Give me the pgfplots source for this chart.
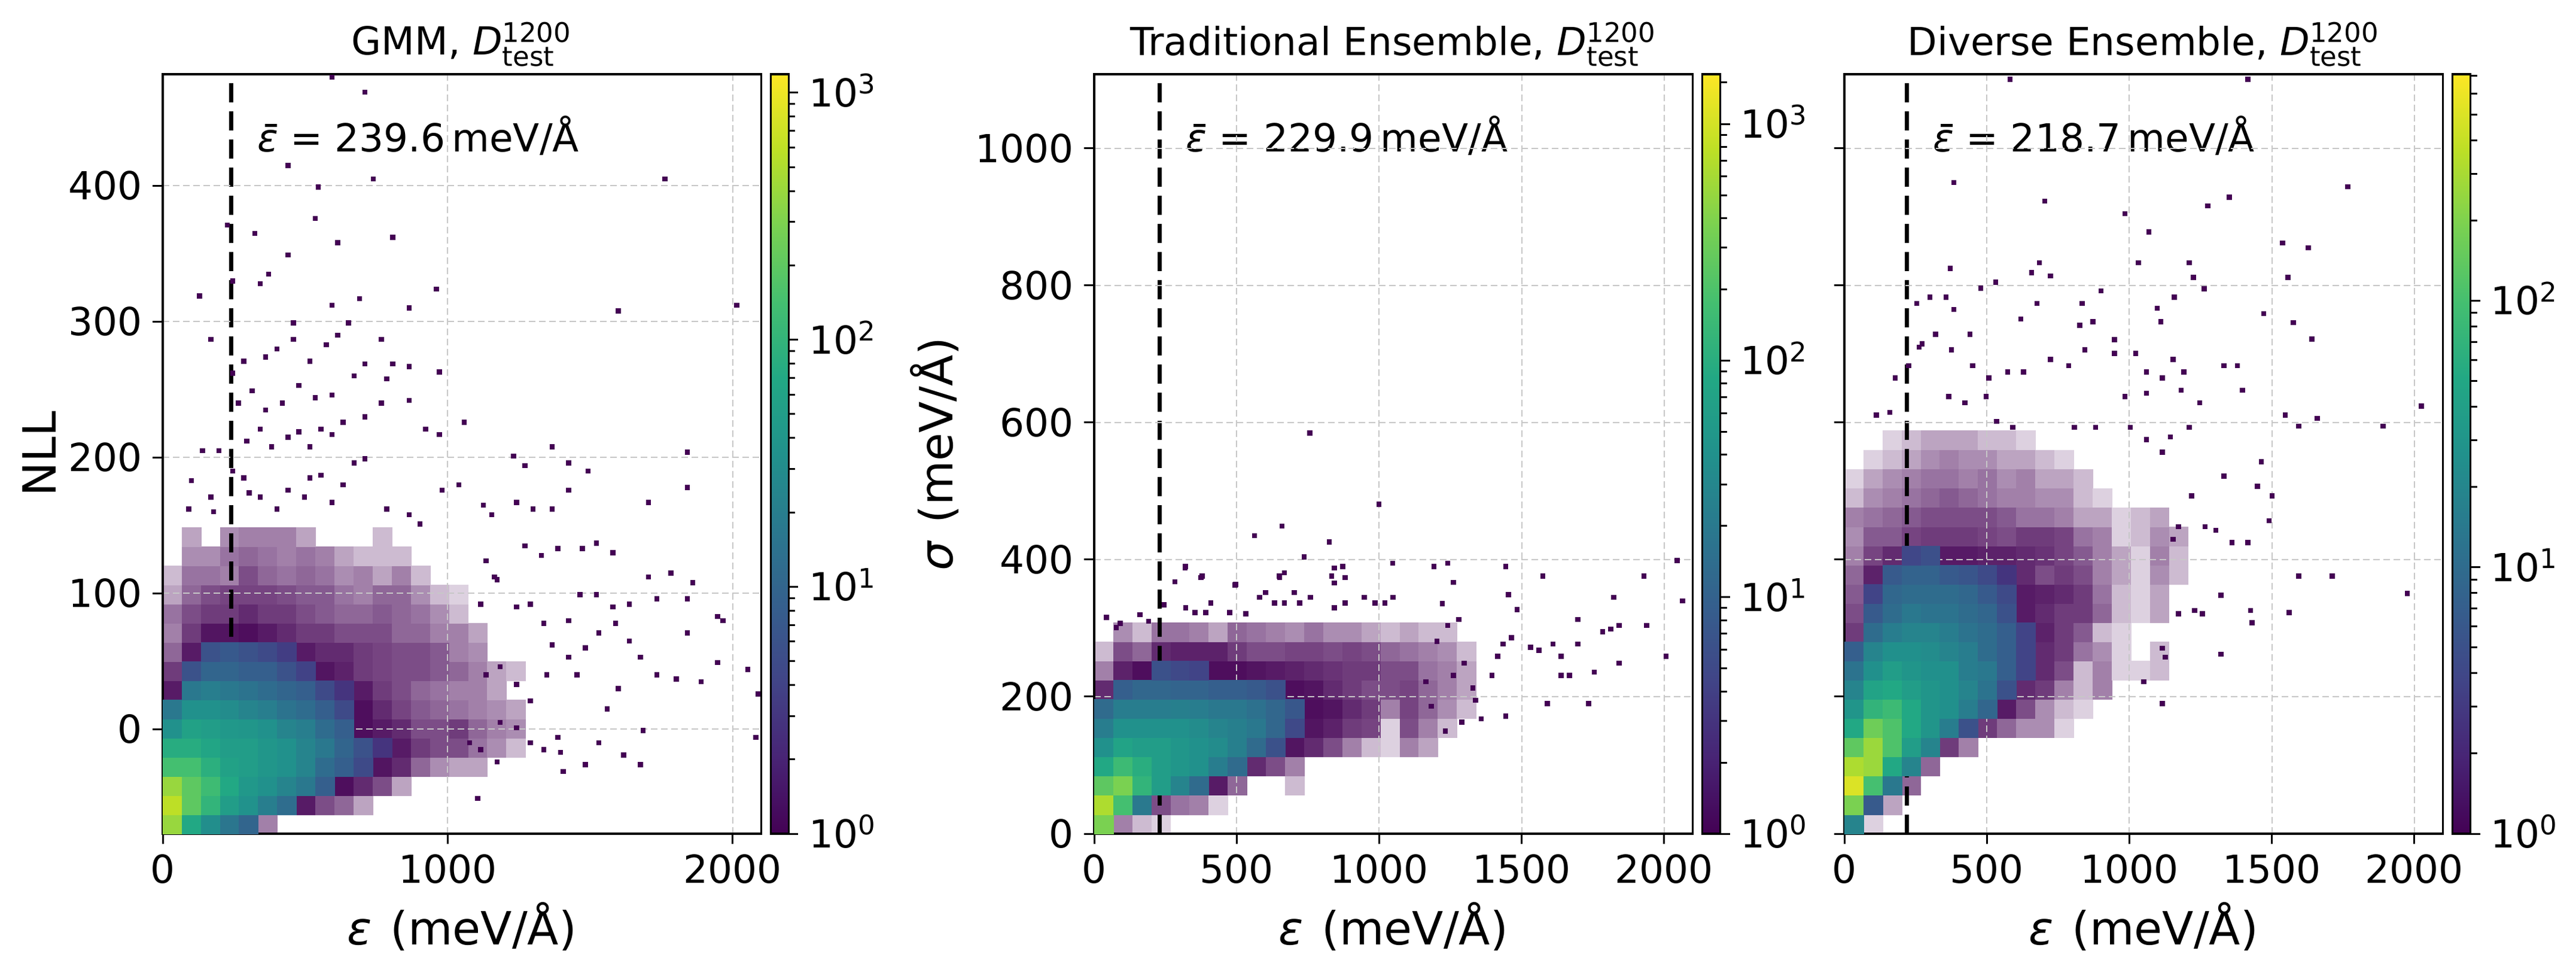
\documentclass[border=0pt]{standalone}
\usepackage{pgfplots}
\pgfplotsset{compat=1.18}
\usepackage{pgfplotstable}
\usepackage{fontspec}
\setmainfont{DejaVu Sans}
\definecolor{vpurple}{HTML}{440154}
\newcommand\myfs{\fontsize{12.9}{15}\selectfont}
\newcommand\myfl{\fontsize{15.3}{18}\selectfont}
\newcommand\myDt{{\itshape D}$^{\mbox{\fontsize{9}{9}\selectfont 1200}}_{\mbox{\fontsize{9}{9}\selectfont test}}$}
\newcommand\myEbar{{\itshape\rlap{\kern0.2em\raisebox{0.65em}{\rule{0.31em}{0.075em}}}ε}}
\newcommand\myeps{{\itshape ε}}
\newcommand\mysgm{{\itshape σ}}
\newcommand\mycbl[1]{10\textsuperscript{#1}}

% ---- panel 1: dense cells (i j log10 count)
\pgfplotstableread[row sep=\\]{
i j c\\
0 0 2.6\\ 1 0 1.85\\ 2 0 1.5\\ 3 0 1.2\\ 4 0 1.0\\
0 1 2.77\\ 1 1 2.3\\ 2 1 2.0\\ 3 1 1.7\\ 4 1 1.55\\ 5 1 1.3\\ 6 1 1.1\\
0 2 2.6\\ 1 2 2.3\\ 2 2 2.1\\ 3 2 1.85\\ 4 2 1.63\\ 5 2 1.54\\ 6 2 1.38\\ 7 2 1.23\\ 8 2 0.92\\
0 3 2.15\\ 1 3 2.15\\ 2 3 1.94\\ 3 3 1.75\\ 4 3 1.7\\ 5 3 1.6\\ 6 3 1.54\\ 7 3 1.38\\ 8 3 1.08\\ 9 3 0.92\\ 10 3 0.68\\
0 4 1.9\\ 1 4 1.9\\ 2 4 1.8\\ 3 4 1.7\\ 4 4 1.7\\ 5 4 1.6\\ 6 4 1.54\\ 7 4 1.38\\ 8 4 1.23\\ 9 4 1.0\\ 10 4 0.77\\ 11 4 0.46\\
0 5 1.54\\ 1 5 1.75\\ 2 5 1.7\\ 3 5 1.63\\ 4 5 1.6\\ 5 5 1.54\\ 6 5 1.38\\ 7 5 1.3\\ 8 5 1.08\\ 9 5 0.92\\
0 6 1.23\\ 1 6 1.54\\ 2 6 1.54\\ 3 6 1.48\\ 4 6 1.38\\ 5 6 1.3\\ 6 6 1.17\\ 7 6 1.08\\ 8 6 0.92\\ 9 6 0.68\\
1 7 1.23\\ 2 7 1.3\\ 3 7 1.23\\ 4 7 1.17\\ 5 7 1.08\\ 6 7 1.0\\ 7 7 0.92\\ 8 7 0.68\\ 9 7 0.46\\
1 8 0.77\\ 2 8 1.0\\ 3 8 1.0\\ 4 8 0.92\\ 5 8 0.92\\ 6 8 0.77\\ 7 8 0.6\\
2 9 0.77\\ 3 9 0.86\\ 4 9 0.77\\ 5 9 0.68\\ 6 9 0.55\\
}\solA
% ---- panel 1: sparse cells (i j filled fraction)
\pgfplotstableread[row sep=\\]{
i j a\\
5 0 0.3\\ 7 1 0.8\\ 8 1 0.5\\ 9 1 0.4\\ 10 1 0.2\\ 9 2 0.9\\ 10 2 0.7\\ 11 2 0.5\\ 12 2 0.2\\
11 3 0.85\\ 12 3 0.7\\ 13 3 0.4\\ 14 3 0.25\\ 15 3 0.2\\ 12 4 0.8\\ 13 4 0.6\\ 14 4 0.5\\ 15 4 0.5\\
10 5 0.9\\ 11 5 0.8\\ 12 5 0.7\\ 13 5 0.5\\ 14 5 0.5\\ 15 5 0.6\\
10 6 0.9\\ 11 6 0.7\\ 12 6 0.55\\ 13 6 0.45\\ 14 6 0.4\\ 15 6 0.35\\
0 7 0.8\\ 10 7 0.8\\ 11 7 0.6\\ 12 7 0.5\\ 13 7 0.4\\ 14 7 0.35\\ 15 7 0.3\\
0 8 0.6\\ 8 8 0.85\\ 9 8 0.75\\ 10 8 0.6\\ 11 8 0.55\\ 12 8 0.5\\ 13 8 0.5\\ 14 8 0.45\\ 15 8 0.4\\
0 9 0.4\\ 1 9 0.8\\ 7 9 0.8\\ 8 9 0.7\\ 9 9 0.7\\ 10 9 0.6\\ 11 9 0.55\\ 12 9 0.5\\ 13 9 0.5\\ 14 9 0.45\\ 15 9 0.3\\
0 10 0.3\\ 1 10 0.6\\ 2 10 0.85\\ 3 10 0.85\\ 4 10 0.9\\ 5 10 0.8\\ 6 10 0.7\\ 7 10 0.6\\ 8 10 0.6\\ 9 10 0.5\\ 10 10 0.5\\ 11 10 0.5\\ 12 10 0.4\\ 13 10 0.4\\ 14 10 0.3\\ 15 10 0.3\\
0 11 0.35\\ 1 11 0.5\\ 2 11 0.6\\ 3 11 0.6\\ 4 11 0.7\\ 5 11 0.6\\ 6 11 0.6\\ 7 11 0.5\\ 8 11 0.45\\ 9 11 0.4\\ 10 11 0.4\\ 11 11 0.45\\ 12 11 0.4\\ 13 11 0.35\\ 14 11 0.25\\ 15 11 0.15\\
0 12 0.2\\ 1 12 0.4\\ 2 12 0.5\\ 3 12 0.55\\ 4 12 0.55\\ 5 12 0.55\\ 6 12 0.5\\ 7 12 0.45\\ 8 12 0.45\\ 9 12 0.35\\ 10 12 0.3\\ 11 12 0.4\\ 12 12 0.4\\ 13 12 0.25\\ 14 12 0.15\\ 15 12 0.1\\
0 13 0.15\\ 1 13 0.35\\ 2 13 0.35\\ 3 13 0.3\\ 4 13 0.5\\ 5 13 0.4\\ 6 13 0.35\\ 7 13 0.4\\ 8 13 0.35\\ 9 13 0.25\\ 10 13 0.3\\ 11 13 0.2\\ 12 13 0.3\\ 13 13 0.15\\
1 14 0.25\\ 2 14 0.25\\ 3 14 0.35\\ 4 14 0.4\\ 5 14 0.35\\ 6 14 0.3\\ 7 14 0.35\\ 8 14 0.3\\ 9 14 0.2\\ 10 14 0.15\\ 11 14 0.15\\ 12 14 0.15\\
1 15 0.2\\ 3 15 0.25\\ 4 15 0.3\\ 5 15 0.3\\ 6 15 0.3\\ 7 15 0.2\\ 11 15 0.15\\
16 3 0.2\\ 16 4 0.35\\ 16 5 0.4\\ 16 6 0.3\\ 16 7 0.3\\ 16 8 0.3\\ 16 9 0.25\\ 16 10 0.2\\ 17 4 0.25\\ 17 5 0.3\\ 17 6 0.25\\ 17 7 0.2\\ 17 8 0.2\\ 18 4 0.15\\ 18 5 0.25\\ 18 6 0.2\\ 18 8 0.15\\
}\fadA

% ---- panel 2
\pgfplotstableread[row sep=\\]{
i j c\\
0 0 2.57\\ 0 1 2.82\\ 1 1 2.25\\ 2 1 1.3\\
0 2 2.4\\ 1 2 2.57\\ 2 2 2.09\\ 3 2 1.77\\ 4 2 1.44\\ 5 2 1.12\\
0 3 1.93\\ 1 3 2.18\\ 2 3 2.0\\ 3 3 1.77\\ 4 3 1.67\\ 5 3 1.6\\ 6 3 1.35\\ 7 3 1.12\\
0 4 1.6\\ 1 4 1.86\\ 2 4 1.77\\ 3 4 1.77\\ 4 4 1.67\\ 5 4 1.6\\ 6 4 1.54\\ 7 4 1.38\\ 8 4 1.12\\ 9 4 0.8\\
0 5 1.35\\ 1 5 1.6\\ 2 5 1.6\\ 3 5 1.6\\ 4 5 1.6\\ 5 5 1.54\\ 6 5 1.44\\ 7 5 1.38\\ 8 5 1.28\\ 9 5 1.06\\ 10 5 0.7\\
0 6 1.12\\ 1 6 1.35\\ 2 6 1.35\\ 3 6 1.35\\ 4 6 1.38\\ 5 6 1.35\\ 6 6 1.28\\ 7 6 1.28\\ 8 6 1.19\\ 9 6 1.06\\ 10 6 0.87\\
1 7 0.96\\ 2 7 1.06\\ 3 7 1.06\\ 4 7 1.03\\ 5 7 1.03\\ 6 7 0.96\\ 7 7 0.96\\ 8 7 0.9\\ 9 7 0.8\\
3 8 0.8\\ 4 8 0.7\\ 5 8 0.64\\
}\solB
\pgfplotstableread[row sep=\\]{
i j a\\
1 0 0.3\\ 2 0 0.15\\ 3 0 0.1\\ 3 1 0.5\\ 4 1 0.35\\ 5 1 0.3\\ 6 1 0.1\\ 6 2 0.8\\ 7 2 0.4\\ 10 2 0.15\\
8 3 0.7\\ 9 3 0.5\\ 10 3 0.3\\ 10 4 0.85\\ 11 4 0.7\\ 12 4 0.5\\ 13 4 0.3\\ 14 4 0.15\\ 15 4 0.1\\
11 5 0.85\\ 12 5 0.75\\ 13 5 0.6\\ 14 5 0.55\\ 15 5 0.1\\ 11 6 0.9\\ 12 6 0.85\\ 13 6 0.7\\ 14 6 0.6\\ 15 6 0.3\\
0 7 0.7\\ 10 7 0.9\\ 11 7 0.85\\ 12 7 0.7\\ 13 7 0.6\\ 14 7 0.5\\ 15 7 0.5\\
0 8 0.3\\ 1 8 0.75\\ 2 8 0.9\\ 6 8 0.9\\ 7 8 0.9\\ 8 8 0.85\\ 9 8 0.8\\ 10 8 0.75\\ 11 8 0.7\\ 12 8 0.65\\ 13 8 0.6\\ 14 8 0.6\\ 15 8 0.5\\
0 9 0.15\\ 1 9 0.5\\ 2 9 0.4\\ 3 9 0.7\\ 4 9 0.75\\ 5 9 0.75\\ 6 9 0.75\\ 7 9 0.6\\ 8 9 0.5\\ 9 9 0.5\\ 10 9 0.55\\ 11 9 0.55\\ 12 9 0.5\\ 13 9 0.55\\ 14 9 0.5\\ 15 9 0.4\\
1 10 0.25\\ 2 10 0.15\\ 3 10 0.35\\ 4 10 0.35\\ 5 10 0.3\\ 6 10 0.2\\ 7 10 0.4\\ 8 10 0.35\\ 9 10 0.3\\ 10 10 0.25\\ 11 10 0.35\\ 12 10 0.25\\ 13 10 0.25\\ 14 10 0.2\\ 15 10 0.15\\
16 4 0.3\\ 16 5 0.5\\ 16 6 0.55\\ 16 7 0.55\\ 16 8 0.5\\ 16 9 0.35\\ 16 10 0.2\\ 17 4 0.2\\ 17 5 0.3\\ 17 6 0.4\\ 17 7 0.4\\ 17 8 0.35\\ 17 9 0.3\\ 17 10 0.15\\ 18 5 0.15\\ 18 6 0.25\\ 18 7 0.3\\ 18 8 0.3\\ 18 9 0.25\\ 18 10 0.15\\ 19 6 0.15\\ 19 7 0.2\\ 19 8 0.2\\ 19 9 0.15\\
}\fadB

% ---- panel 3
\pgfplotstableread[row sep=\\]{
i j c\\
0 0 1.28\\ 0 1 2.28\\ 1 1 0.8\\ 0 2 2.7\\ 1 2 2.0\\ 2 2 1.14\\
0 3 2.5\\ 1 3 2.42\\ 2 3 1.71\\ 3 3 1.28\\ 0 4 2.14\\ 1 4 2.42\\ 2 4 2.05\\ 3 4 1.57\\ 4 4 1.28\\
0 5 1.71\\ 1 5 2.22\\ 2 5 2.05\\ 3 5 1.71\\ 4 5 1.48\\ 5 5 1.2\\ 6 5 0.71\\
0 6 1.48\\ 1 6 1.85\\ 2 6 1.94\\ 3 6 1.71\\ 4 6 1.48\\ 5 6 1.42\\ 6 6 1.2\\ 7 6 0.94\\
0 7 1.28\\ 1 7 1.65\\ 2 7 1.71\\ 3 7 1.57\\ 4 7 1.48\\ 5 7 1.42\\ 6 7 1.28\\ 7 7 1.08\\ 8 7 0.71\\
0 8 1.08\\ 1 8 1.42\\ 2 8 1.57\\ 3 8 1.48\\ 4 8 1.42\\ 5 8 1.42\\ 6 8 1.2\\ 7 8 1.14\\ 8 8 0.86\\ 9 8 0.57\\
0 9 0.86\\ 1 9 1.28\\ 2 9 1.42\\ 3 9 1.42\\ 4 9 1.37\\ 5 9 1.28\\ 6 9 1.2\\ 7 9 1.0\\ 8 9 0.86\\ 9 9 0.57\\
1 10 1.0\\ 2 10 1.2\\ 3 10 1.28\\ 4 10 1.28\\ 5 10 1.2\\ 6 10 1.08\\ 7 10 1.0\\ 8 10 0.86\\ 9 10 0.57\\
1 11 0.8\\ 2 11 1.0\\ 3 11 1.14\\ 4 11 1.08\\ 5 11 1.08\\ 6 11 1.0\\ 7 11 0.94\\ 8 11 0.71\\
1 12 0.57\\ 2 12 0.95\\ 3 12 1.0\\ 4 12 1.0\\ 5 12 1.0\\ 6 12 0.95\\ 7 12 0.8\\ 8 12 0.63\\
2 13 0.8\\ 3 13 0.9\\ 4 13 0.9\\ 5 13 0.8\\ 6 13 0.75\\ 7 13 0.63\\ 8 13 0.43\\
3 14 0.6\\ 4 14 0.7\\
}\solC
\pgfplotstableread[row sep=\\]{
i j a\\
1 0 0.1\\ 2 1 0.2\\ 3 2 0.4\\ 4 3 0.4\\ 5 4 0.6\\ 6 4 0.3\\
7 5 0.6\\ 8 5 0.4\\ 9 5 0.25\\ 10 5 0.25\\ 11 5 0.1\\ 8 6 0.8\\ 9 6 0.5\\ 10 6 0.25\\ 11 6 0.15\\ 12 6 0.1\\
9 7 0.7\\ 10 7 0.6\\ 11 7 0.3\\ 12 7 0.15\\ 13 7 0.3\\ 10 8 0.7\\ 11 8 0.5\\ 12 8 0.15\\ 13 8 0.3\\ 14 8 0.1\\ 15 8 0.1\\
10 9 0.7\\ 11 9 0.6\\ 12 9 0.35\\ 13 9 0.25\\ 14 9 0.1\\ 0 10 0.6\\ 10 10 0.75\\ 11 10 0.6\\ 12 10 0.45\\ 13 10 0.15\\ 14 10 0.1\\
0 11 0.5\\ 9 11 0.8\\ 10 11 0.7\\ 11 11 0.6\\ 12 11 0.6\\ 13 11 0.4\\ 14 11 0.15\\ 15 11 0.1\\
0 12 0.45\\ 9 12 0.8\\ 10 12 0.75\\ 11 12 0.7\\ 12 12 0.6\\ 13 12 0.35\\ 14 12 0.15\\ 15 12 0.1\\
0 13 0.4\\ 1 13 0.75\\ 9 13 0.7\\ 10 13 0.5\\ 11 13 0.6\\ 12 13 0.5\\ 13 13 0.3\\ 14 13 0.2\\ 15 13 0.1\\
0 14 0.3\\ 1 14 0.55\\ 2 14 0.7\\ 5 14 0.8\\ 6 14 0.8\\ 7 14 0.75\\ 8 14 0.75\\ 9 14 0.7\\ 10 14 0.65\\ 11 14 0.55\\ 12 14 0.45\\ 13 14 0.3\\ 14 14 0.2\\ 15 14 0.1\\
0 15 0.25\\ 1 15 0.45\\ 2 15 0.45\\ 3 15 0.55\\ 4 15 0.6\\ 5 15 0.6\\ 6 15 0.6\\ 7 15 0.55\\ 8 15 0.5\\ 9 15 0.6\\ 10 15 0.6\\ 11 15 0.55\\ 12 15 0.35\\ 13 15 0.3\\ 14 15 0.1\\ 15 15 0.15\\
0 16 0.3\\ 1 16 0.35\\ 2 16 0.4\\ 3 16 0.45\\ 4 16 0.5\\ 5 16 0.5\\ 6 16 0.5\\ 7 16 0.5\\ 8 16 0.45\\ 9 16 0.35\\ 10 16 0.35\\ 11 16 0.3\\ 12 16 0.2\\ 13 16 0.2\\ 14 16 0.1\\ 15 16 0.15\\
0 17 0.15\\ 1 17 0.25\\ 2 17 0.3\\ 3 17 0.35\\ 4 17 0.4\\ 5 17 0.45\\ 6 17 0.4\\ 7 17 0.35\\ 8 17 0.3\\ 9 17 0.3\\ 10 17 0.25\\ 11 17 0.25\\ 12 17 0.15\\ 13 17 0.1\\
0 18 0.1\\ 1 18 0.2\\ 2 18 0.25\\ 3 18 0.3\\ 4 18 0.35\\ 5 18 0.35\\ 6 18 0.3\\ 7 18 0.35\\ 8 18 0.25\\ 9 18 0.3\\ 10 18 0.2\\ 11 18 0.2\\ 12 18 0.15\\
1 19 0.1\\ 2 19 0.15\\ 3 19 0.2\\ 4 19 0.25\\ 5 19 0.3\\ 6 19 0.25\\ 7 19 0.25\\ 8 19 0.2\\ 9 19 0.2\\ 10 19 0.15\\ 11 19 0.1\\
2 20 0.1\\ 3 20 0.15\\ 4 20 0.2\\ 5 20 0.2\\ 6 20 0.2\\ 7 20 0.15\\ 8 20 0.15\\ 9 20 0.1\\
16 8 0.15\\ 16 9 0.15\\ 16 11 0.2\\ 16 12 0.2\\ 16 13 0.25\\ 16 14 0.3\\ 16 15 0.25\\ 16 16 0.2\\ 17 13 0.15\\ 17 14 0.15\\ 17 15 0.2\\
}\fadC

\pgfplotsset{
  colormap={fade}{rgb255=(255,255,255) rgb255=(171,141,178) rgb255=(124,77,135) rgb255=(92,34,106) rgb255=(68,1,84)},
  colormap={vir}{rgb255=(68,1,84) rgb255=(72,36,117) rgb255=(65,68,135) rgb255=(53,95,141) rgb255=(42,120,142) rgb255=(33,145,140) rgb255=(34,168,132) rgb255=(68,191,112) rgb255=(122,209,81) rgb255=(189,223,38) rgb255=(253,231,37)},
  mybox/.style={scale only axis, width=200.1pt, height=253.8pt, anchor=south west,
    xmin=0, xmax=2100, enlargelimits=false},
  fadeaxis/.style={mybox, hide axis, colormap name=fade, point meta min=0, point meta max=1},
  mybase/.style={
    mybox, axis on top,
    colormap name=vir, point meta min=0,
    grid=major, grid style={color=black!22, dash pattern=on 2.2pt off 1.2pt, line width=0.4pt},
    tick align=outside, major tick length=3.4pt,
    every tick/.style={black, line width=0.6pt},
    axis line style={line width=0.65pt},
    xtick pos=left, ytick pos=left,
    ticklabel style={font=\myfs},
    /pgf/number format/1000 sep={},
    every axis x label/.style={at={(axis description cs:0.5,0)}, anchor=base, yshift=-37pt, font=\myfl},
    every axis title/.style={at={(axis description cs:0.5,1)}, anchor=base, yshift=6.4pt, font=\myfs},
    xlabel={\myeps\hspace{0.4em}(meV/Å)},
    colorbar,
    colorbar style={
      at={(parent axis.south east)}, anchor=south west, xshift=-5.34pt,
      scale only axis, width=6pt, height=253.8pt,
      axis line style={line width=0.65pt},
      tick align=outside, ytick pos=right, yticklabel pos=right,
      major tick length=3.2pt, minor tick length=2.2pt,
      every tick/.style={black, line width=0.6pt},
      yticklabel style={font=\myfs, anchor=base west, yshift=-4.7pt},
    },
  },
  mycells/.style={scatter, only marks, mark=square*, mark size=3.18pt,
    point meta=explicit,
    scatter/use mapped color={draw=mapped color, fill=mapped color, line width=0.1pt}},
  mydots/.style={only marks, mark=square*, mark size=0.75pt, mark options={draw=vpurple, fill=vpurple, line width=0.1pt}},
  mymean/.style={black, line width=1.4pt, dash pattern=on 6.4pt off 3pt},
}

\begin{document}
\begin{tikzpicture}
\useasboundingbox (0,0) rectangle (861.2pt,324.6pt);

% ===== panel 1
\begin{axis}[fadeaxis, at={(54.4pt,46pt)}, ymin=-77, ymax=482]
\addplot[mycells] table[x expr=\thisrowno{0}*67+33.5, y expr=\thisrowno{1}*14.1-69.95, meta index=2]{\fadA};
\end{axis}
\begin{axis}[mybase, at={(54.4pt,46pt)}, ymin=-77, ymax=482, point meta max=3.075,
  xtick={0,1000,2000}, ytick={0,100,200,300,400},
  xticklabels={0,1000,2000}, yticklabels={0,100,200,300,400},
  title={GMM, \myDt}, ylabel={NLL},
  every axis y label/.style={at={(axis description cs:0,0.5)}, anchor=base, xshift=-35.6pt, rotate=90, font=\myfl},
  colorbar style={ytick={0,1,2,3}, yticklabels={\mycbl{0},\mycbl{1},\mycbl{2},\mycbl{3}},
    minor ytick={0.301,0.477,0.602,0.699,0.778,0.845,0.903,0.954,1.301,1.477,1.602,1.699,1.778,1.845,1.903,1.954,2.301,2.477,2.602,2.699,2.778,2.845,2.903,2.954}}]
\addplot[mycells] table[x expr=\thisrowno{0}*67+33.5, y expr=\thisrowno{1}*14.1-69.95, meta index=2]{\solA};
\addplot[mydots] table[row sep=\\]{
x y\\
100 183\\139 205\\197 205\\91 162\\168 171\\178 160\\245 190\\284 185\\303 174\\342 171\\400 162\\439 176\\497 171\\516 185\\555 187\\593 167\\632 180\\671 196\\709 199\\786 162\\864 158\\902 151\\980 176\\1038 180\\294 212\\342 221\\381 208\\439 215\\477 219\\516 208\\555 221\\593 217\\632 226\\709 230\\767 240\\864 242\\922 221\\970 217\\265 240\\313 249\\361 235\\419 240\\477 253\\535 244\\593 246\\671 260\\709 269\\786 258\\864 267\\245 262\\284 271\\361 274\\400 280\\458 287\\516 271\\574 283\\613 290\\651 299\\767 287\\806 269\\864 310\\960 324\\458 299\\593 312\\690 317\\168 287\\129 319\\245 330\\323 365\\342 328\\371 335\\439 349\\545 399\\613 358\\535 376\\806 362\\709 469\\593 480\\439 415\\738 405\\1762 405\\226 371\\1598 308\\2013 312\\1057 226\\970 263\\1366 208\\1231 201\\1424 196\\1492 190\\1840 204\\1840 178\\1704 167\\1270 194\\1125 165\\1154 158\\1241 167\\1299 162\\1366 162\\1424 176\\
1076 -10\\1115 -15\\1173 -24\\1105 -51\\1183 5\\1241 1\\1289 -10\\1337 -15\\1386 -6\\1395 -17\\1405 -31\\1482 -26\\1530 -10\\1559 15\\1617 -19\\1675 -26\\1685 -1\\1598 30\\1134 40\\1183 46\\1241 33\\1289 21\\1347 40\\1366 62\\1424 53\\1453 40\\1482 60\\1530 71\\1588 78\\1637 65\\1675 53\\1733 40\\1801 37\\1840 71\\1888 35\\1946 49\\1965 80\\2052 44\\2088 26\\2081 -6\\1115 92\\1173 110\\1241 90\\1289 92\\1337 78\\1424 80\\1463 99\\1521 99\\1579 90\\1637 92\\1704 112\\1733 96\\1782 115\\1840 96\\1859 108\\1946 83\\1134 124\\1163 112\\1270 135\\1328 128\\1386 133\\1472 133\\1521 137\\1579 130\\
};
\addplot[mymean] coordinates {(239.6,-77) (239.6,482)};
\node[anchor=base west, inner sep=0pt, font=\myfs] at ({axis cs:329.6,0}|-{rel axis cs:0,0.898}) {\myEbar{} = 239.6\hspace{0.17em}meV/Å};
\end{axis}

% ===== panel 2
\begin{axis}[fadeaxis, at={(365.8pt,46pt)}, ymin=0, ymax=1108]
\addplot[mycells] table[x expr=\thisrowno{0}*67+33.5, y expr=\thisrowno{1}*28+14, meta index=2]{\fadB};
\end{axis}
\begin{axis}[mybase, at={(365.8pt,46pt)}, ymin=0, ymax=1108, point meta max=3.21,
  xtick={0,500,1000,1500,2000}, ytick={0,200,400,600,800,1000},
  xticklabels={0,500,1000,1500,2000}, yticklabels={0,200,400,600,800,1000},
  title={Traditional Ensemble, \myDt}, ylabel={\mysgm\hspace{0.4em}(meV/Å)},
  every axis y label/.style={at={(axis description cs:0,0.5)}, anchor=base, xshift=-47.4pt, rotate=90, font=\myfl},
  colorbar style={ytick={0,1,2,3}, yticklabels={\mycbl{0},\mycbl{1},\mycbl{2},\mycbl{3}},
    minor ytick={0.301,0.477,0.602,0.699,0.778,0.845,0.903,0.954,1.301,1.477,1.602,1.699,1.778,1.845,1.903,1.954,2.301,2.477,2.602,2.699,2.778,2.845,2.903,2.954,3.176}}]
\addplot[mycells] table[x expr=\thisrowno{0}*67+33.5, y expr=\thisrowno{1}*28+14, meta index=2]{\solB};
\addplot[mydots] table[row sep=\\]{
x y\\
245 334\\321 330\\353 323\\391 323\\409 337\\475 323\\531 321\\580 345\\601 352\\632 337\\667 337\\702 352\\720 337\\758 345\\842 330\\880 337\\947 345\\985 337\\1020 337\\1048 345\\318 388\\374 374\\283 368\\496 364\\650 374\\667 381\\842 388\\842 366\\880 374\\42 316\\91 307\\77 301\\160 320\\190 310\\
1434 277\\1463 286\\1453 349\\1483 327\\1444 172\\1395 231\\1415 259\\1531 272\\1560 268\\1589 190\\1609 277\\1638 259\\1638 231\\1667 231\\1696 313\\1696 277\\1734 190\\1754 236\\1783 295\\1812 299\\1841 304\\1841 249\\1938 304\\2006 259\\1928 376\\1822 345\\2045 399\\2064 340\\1574 376\\1444 390\\1260 367\\1240 304\\1202 281\\1337 195\\1357 168\\1328 213\\1289 163\\1231 150\\1182 186\\1163 222\\1298 249\\1260 231\\1279 313\\1221 336\\1192 390\\1240 395\\1047 395\\998 481\\756 585\\659 449\\562 435\\824 426\\736 404\\320 390\\378 376\\494 363\\649 376\\833 376\\872 390\\
};
\addplot[mymean] coordinates {(229.9,0) (229.9,1108)};
\node[anchor=base west, inner sep=0pt, font=\myfs] at ({axis cs:319.9,0}|-{rel axis cs:0,0.898}) {\myEbar{} = 229.9\hspace{0.17em}meV/Å};
\end{axis}

% ===== panel 3
\begin{axis}[fadeaxis, at={(616.6pt,46pt)}, ymin=0, ymax=1108]
\addplot[mycells] table[x expr=\thisrowno{0}*67+33.5, y expr=\thisrowno{1}*28+14, meta index=2]{\fadC};
\end{axis}
\begin{axis}[mybase, at={(616.6pt,46pt)}, ymin=0, ymax=1108, point meta max=2.85,
  xtick={0,500,1000,1500,2000}, ytick={0,200,400,600,800,1000},
  xticklabels={0,500,1000,1500,2000}, yticklabels={},
  title={Diverse Ensemble, \myDt},
  colorbar style={ytick={0,1,2}, yticklabels={\mycbl{0},\mycbl{1},\mycbl{2}},
    minor ytick={0.301,0.477,0.602,0.699,0.778,0.845,0.903,0.954,1.301,1.477,1.602,1.699,1.778,1.845,1.903,1.954,2.301,2.477,2.602,2.699,2.778,2.845}}]
\addplot[mycells] table[x expr=\thisrowno{0}*67+33.5, y expr=\thisrowno{1}*28+14, meta index=2]{\solC};
\addplot[mydots] table[row sep=\\]{
x y\\
581 1101\\1415 1101\\384 950\\703 923\\984 905\\1068 878\\1275 916\\1350 929\\1766 944\\1537 862\\1627 855\\371 825\\656 819\\684 833\\722 814\\530 805\\478 796\\1031 833\\1209 833\\1224 812\\1262 795\\1556 812\\1575 746\\1640 722\\1471 759\\1157 783\\1097 767\\1110 747\\947 721\\900 792\\872 747\\834 774\\825 742\\675 774\\619 751\\440 729\\384 765\\356 783\\300 783\\253 774\\319 729\\262 710\\225 683\\178 665\\112 611\\159 615\\272 715\\375 706\\450 683\\506 665\\572 674\\628 674\\722 692\\787 683\\843 706\\947 701\\1022 701\\1059 674\\1115 665\\1153 692\\1190 674\\1181 647\\1059 643\\984 638\\806 593\\881 593\\590 593\\534 602\\422 629\\366 638\\497 638\\1003 593\\1059 575\\1115 557\\1143 579\\1209 593\\1246 629\\1331 683\\1378 683\\1396 647\\1546 611\\1593 595\\1659 606\\1889 595\\2024 624\\1462 543\\1500 493\\1490 457\\1331 522\\1449 507\\1218 493\\1265 448\\1172 448\\1153 430\\1303 443\\1359 425\\1415 425\\1593 376\\1711 376\\1974 351\\1321 348\\1425 326\\1430 308\\1560 323\\1172 321\\1228 326\\1256 321\\1321 262\\1115 271\\1125 258\\1050 222\\1115 190\\
};
\addplot[mymean] coordinates {(218.7,0) (218.7,1108)};
\node[anchor=base west, inner sep=0pt, font=\myfs] at ({axis cs:308.7,0}|-{rel axis cs:0,0.898}) {\myEbar{} = 218.7\hspace{0.17em}meV/Å};
\end{axis}
\end{tikzpicture}
\end{document}
